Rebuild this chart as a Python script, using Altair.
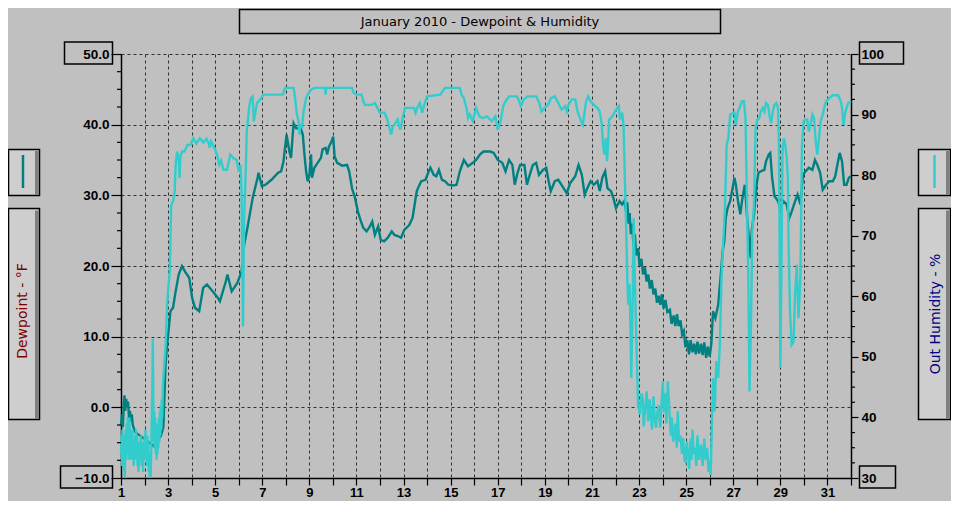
import altair as alt
import pandas as pd

# ---------------- data ----------------
dew_day = [1.00, 1.04, 1.08, 1.12, 1.15, 1.18, 1.22, 1.26, 1.30, 1.34, 1.38, 1.42, 1.46, 1.50,
           1.6, 1.8, 2.0, 2.2, 2.4, 2.6, 2.7, 2.80, 2.89, 2.96, 3.03, 3.10, 3.21, 3.31, 3.45,
           3.59, 3.72, 3.90, 4.02, 4.14, 4.32, 4.49, 4.65, 4.90, 5.11, 5.20, 5.45, 5.52, 5.70,
           5.94, 6.12, 6.23, 6.39, 6.59, 6.80, 6.84, 6.98, 7.14, 7.39, 7.67, 7.80, 7.90, 8.03,
           8.15, 8.22, 8.33, 8.44, 8.63, 8.72, 8.79, 8.86, 8.93, 9.00, 9.07, 9.11, 9.21, 9.35,
           9.49, 9.56, 9.69, 9.76, 9.83, 9.94, 10.01, 10.07, 10.18, 10.39, 10.60, 10.69, 10.81,
           10.94, 11.06, 11.19, 11.29, 11.43, 11.57, 11.67, 11.78, 11.92, 12.03, 12.17, 12.33,
           12.50, 12.61, 12.78, 12.89, 13.03, 13.24, 13.38, 13.47, 13.56, 13.65, 13.75, 13.93,
           14.07, 14.14, 14.28, 14.39, 14.50, 14.63, 14.76, 14.90, 15.11, 15.25, 15.39, 15.56,
           15.74, 15.94, 16.08, 16.25, 16.39, 16.68, 16.83, 17.00, 17.19, 17.33, 17.48, 17.62,
           17.72, 17.84, 17.95, 18.13, 18.24, 18.34, 18.49, 18.63, 18.75, 18.92, 19.06, 19.16,
           19.25, 19.42, 19.57, 19.74, 19.93, 20.07, 20.29, 20.43, 20.57, 20.69, 20.80, 20.94,
           21.08, 21.23, 21.33, 21.44, 21.56, 21.66, 21.81, 21.91, 22.02, 22.17, 22.28, 22.38,
           22.45, 22.50, 22.55, 22.60, 22.65, 22.71, 22.76, 22.82, 22.88, 22.96, 23.02, 23.10,
           23.17, 23.25, 23.32, 23.39, 23.46, 23.54, 23.61, 23.69, 23.76, 23.83, 23.90, 23.97,
           24.04, 24.12, 24.20, 24.31, 24.38, 24.47, 24.54, 24.61, 24.68, 24.76, 24.83, 24.90,
           24.97, 25.05, 25.12, 25.19, 25.27, 25.34, 25.41, 25.48, 25.55, 25.63, 25.70, 25.77,
           25.85, 25.92, 26.00, 26.07, 26.14, 26.24, 26.36, 26.47, 26.55, 26.62, 26.68, 26.76,
           26.87, 26.97, 27.05, 27.11, 27.20, 27.30, 27.37, 27.49, 27.59, 27.69, 27.74, 27.78,
           27.88, 27.99, 28.07, 28.17, 28.32, 28.39, 28.51, 28.57, 28.65, 28.75, 28.90, 29.00,
           29.12, 29.27, 29.38, 29.48, 29.63, 29.73, 29.85, 29.96, 30.07, 30.21, 30.36, 30.47,
           30.57, 30.69, 30.80, 30.94, 31.08, 31.23, 31.33, 31.42, 31.52, 31.62, 31.71, 31.81,
           31.91, 32.00]
dew_val = [-2.5, -1.0, -2.8, 0.5, 1.7, -0.5, 1.2, 0.0, 0.8, -1.5, -0.5, -2.0, -1.0, -2.5,
           -3.5, -4.0, -4.5, -5.0, -5.5, -4.5, -4.0, -2.8, 6.0, 8.9, 11.2, 13.6, 14.1, 16.2, 18.8,
           20.0, 19.2, 18.3, 15.5, 14.1, 13.6, 16.9, 17.4, 16.4, 15.5, 15.0, 17.8, 18.8, 16.4,
           17.6, 19.2, 23.0, 25.8, 29.6, 32.5, 33.2, 31.3, 31.5, 32.2, 33.2, 33.4, 34.8, 38.6,
           36.2, 35.3, 40.2, 39.5, 39.5, 38.6, 35.8, 33.4, 32.0, 32.9, 35.8, 32.5, 33.9, 34.6,
           35.3, 36.5, 36.7, 35.8, 36.9, 37.6, 38.3, 35.5, 34.6, 34.2, 34.3, 33.4, 31.0,
           29.6, 27.7, 26.3, 25.4, 24.9, 25.6, 26.3, 24.4, 25.6, 23.7, 23.5, 24.0,
           24.9, 24.4, 24.2, 24.0, 25.1, 25.8, 26.8, 28.7, 30.6, 31.3, 32.0, 32.2,
           33.4, 33.9, 32.9, 32.7, 33.6, 32.2, 32.0, 31.5, 31.4, 31.5, 33.4, 35.0,
           34.1, 34.6, 35.0, 35.8, 36.2, 36.2, 36.0, 35.0, 34.6, 33.4, 35.0, 34.3,
           31.5, 33.2, 34.3, 34.3, 31.5, 32.7, 34.3, 34.6, 32.9, 33.6, 33.9, 32.0,
           30.6, 32.0, 32.2, 31.3, 30.3, 31.7, 32.7, 34.3, 32.9, 30.1, 31.0, 32.0,
           31.5, 32.0, 30.6, 32.5, 33.4, 31.0, 30.6, 29.6, 28.2, 29.2, 28.7, 29.2,
           27.7, 29.0, 26.0, 27.5, 24.5, 26.0, 23.0, 24.5, 21.5, 22.5, 20.0, 21.0,
           18.8, 19.8, 17.8, 18.8, 16.8, 18.0, 16.0, 16.8, 14.8, 15.8, 14.5, 16.0,
           14.0, 15.2, 13.5, 13.8, 11.8, 13.0, 11.5, 13.2, 11.5, 12.3, 10.3, 10.8,
           8.5, 9.5, 7.5, 9.5, 7.8, 9.0, 7.5, 9.3, 7.6, 9.0, 7.4, 9.2,
           7.0, 8.6, 7.2, 9.0, 13.6, 12.6, 14.5, 18.8, 22.1, 23.5, 26.8, 28.2,
           29.2, 31.0, 32.5, 31.5, 29.2, 27.3, 29.2, 31.5, 26.8, 23.0, 21.1, 24.9,
           27.3, 31.5, 33.2, 33.4, 33.6, 34.8, 35.8, 36.0, 32.5, 29.9, 29.2, 28.2,
           29.2, 28.7, 26.8, 27.7, 29.2, 30.1, 28.7, 32.9, 33.4, 33.9, 33.6, 35.0,
           34.3, 33.2, 30.8, 31.5, 32.0, 32.0, 32.7, 34.3, 36.0, 34.8, 31.5, 31.5,
           32.5, 32.7]

hum_day = [1.00, 1.02, 1.04, 1.06, 1.08, 1.10, 1.12, 1.14, 1.16, 1.18, 1.20, 1.22, 1.24, 1.26,
           1.28, 1.30, 1.32, 1.34, 1.36, 1.38, 1.40, 1.42, 1.44, 1.46, 1.48, 1.50, 1.52, 1.54,
           1.56, 1.58, 1.60, 1.62, 1.64, 1.66, 1.68, 1.70, 1.72, 1.74, 1.76, 1.78, 1.80, 1.82,
           1.84, 1.86, 1.88, 1.90, 1.92, 1.94, 1.96, 1.98, 2.00, 2.02, 2.04, 2.06, 2.08, 2.10,
           2.12, 2.14, 2.16, 2.18, 2.20, 2.22, 2.24, 2.26, 2.28, 2.30, 2.33, 2.35, 2.37, 2.39,
           2.41, 2.43, 2.45, 2.47, 2.49, 2.51, 2.53, 2.55, 2.57, 2.59, 2.61, 2.63, 2.65, 2.67,
           2.69, 2.71, 2.73, 2.75, 2.78,
           2.80, 2.90, 2.95, 3.00, 3.07, 3.10, 3.13, 3.21, 3.28, 3.32, 3.38, 3.45, 3.49, 3.52,
           3.59, 3.70, 3.82, 3.95, 4.07, 4.20, 4.35, 4.50, 4.63, 4.73, 4.77, 4.82, 4.90, 5.00,
           5.08, 5.17, 5.25, 5.35, 5.50, 5.64, 5.78, 5.92, 6.00, 6.08, 6.12, 6.18, 6.23, 6.30,
           6.34, 6.44, 6.51, 6.59, 6.64, 6.71, 6.78, 6.92, 7.05, 7.50, 7.88, 7.96, 8.33, 8.40,
           8.47, 8.54, 8.58, 8.62, 8.69, 8.75, 8.86, 8.97, 9.07, 9.21, 9.66, 9.69, 9.72, 10.81,
           10.88, 11.01, 11.22, 11.29, 11.36, 11.64, 11.78, 11.89, 11.99, 12.19, 12.31, 12.40,
           12.47, 12.54, 12.61, 12.75, 12.86, 12.96, 13.06, 13.44, 13.51, 13.58, 13.69, 13.79,
           13.86, 13.93, 14.00, 14.56, 14.76, 15.39, 15.46, 15.56, 15.67, 15.74, 15.81, 15.94,
           16.08, 16.22, 16.36, 16.54, 16.75, 16.90, 17.00, 17.12, 17.23, 17.33, 17.48, 17.81,
           17.91, 17.98, 18.10, 18.27, 18.63, 18.77, 18.85, 18.99, 19.14, 19.25, 19.42, 19.57,
           19.71, 19.86, 19.93, 20.00, 20.14, 20.29, 20.39, 20.51, 20.61, 20.69, 20.75, 20.84,
           20.94, 21.08, 21.23, 21.33, 21.42, 21.47, 21.53, 21.59, 21.64, 21.68, 21.73, 21.81,
           21.91, 22.02, 22.14, 22.19, 22.28, 22.34, 22.40, 22.45, 22.50, 22.54, 22.60, 22.67,
           22.74, 22.77, 22.82, 22.89, 22.96, 23.03, 23.10, 23.15, 23.20, 23.25, 23.32, 23.39,
           23.45, 23.49, 23.55, 23.61, 23.66, 23.72, 23.78, 23.83, 23.90, 23.95, 24.01, 24.06,
           24.11, 24.16, 24.22, 24.29, 24.35, 24.39, 24.45, 24.54, 24.60, 24.64, 24.70, 24.76,
           24.82, 24.87, 24.93, 24.97, 25.03, 25.08, 25.13, 25.19, 25.23, 25.27, 25.32, 25.37,
           25.43, 25.48, 25.55, 25.63, 25.70, 25.77, 25.83, 25.89, 25.95, 25.99, 26.04, 26.07,
           26.14, 26.21, 26.28, 26.36, 26.43, 26.50, 26.57, 26.65, 26.72, 26.79, 26.87, 27.05,
           27.11, 27.20, 27.30, 27.37, 27.45, 27.52, 27.59, 27.64, 27.69, 27.75, 27.81, 27.88,
           27.95, 28.03, 28.10, 28.17, 28.25, 28.32, 28.39, 28.47, 28.54, 28.61, 28.68, 28.75,
           28.83, 28.90, 28.94, 28.97, 29.00, 29.05, 29.09, 29.15, 29.21, 29.27, 29.32, 29.35,
           29.41, 29.48, 29.56, 29.63, 29.70, 29.77, 29.85, 29.92, 29.99, 30.07, 30.14, 30.21,
           30.28, 30.36, 30.43, 30.50, 30.57, 30.64, 30.71, 30.80, 30.86, 30.94, 31.08, 31.23,
           31.45, 31.57, 31.62, 31.68, 31.74, 31.81, 31.88, 32.00]
hum_val = [34, 37, 32, 38, 33, 36, 31, 37, 30, 35, 38, 33, 39, 34,
           40, 35, 39, 33, 40, 35, 38, 33, 37, 34, 38, 33, 36, 32,
           35, 33, 37, 34, 38, 33, 37, 32, 36, 31, 35, 32, 36, 33,
           37, 33, 36, 32, 35, 31, 36, 33, 37, 34, 38, 33, 36, 32,
           37, 33, 36, 31, 34, 30, 33, 30, 34, 38, 45, 53, 44, 36,
           41, 35, 40, 34, 39, 33, 38, 34, 39, 35, 40, 36, 41, 37,
           42, 38, 43, 40, 45,
           46.5, 52, 58, 61, 64, 69.6, 75, 75.7, 77.3, 81.7, 83.9, 82.8, 79.5, 83,
           83.9, 83.9, 85, 85, 86.1, 85.2, 86.1, 85.4, 86.0, 85.2, 84.5, 85.6, 85, 84.2,
           83.4, 81.7, 82.4, 80.9, 80.9, 83.4, 82.8, 82.5, 80.6, 81.7, 77.3, 55.0, 72.9, 81.2,
           87.2, 91.1, 92.7, 93.0, 88.9, 90.5, 91.9, 92.5, 93.3, 93.3, 93.3, 94.4, 94.4, 92.5,
           90.0, 88.9, 86.7, 88.5, 87.8, 90.5, 92.7, 93.6, 94.1, 94.4, 94.4, 93.3, 94.4, 94.4,
           93.6, 93.3, 93.3, 92.2, 91.6, 91.6, 91.9, 91.1, 90.3, 90.3, 89.2, 87.8,
           86.7, 88.0, 88.3, 89.2, 87.5, 89.4, 91.1, 91.1, 90.3, 91.1, 91.9, 90.3,
           91.4, 92.2, 93.0, 93.3, 94.4, 94.4, 93.3, 92.7, 91.1, 89.4, 90.0, 88.9,
           91.1, 89.7, 89.4, 89.7, 88.9, 89.7, 87.5, 88.9, 91.4, 92.2, 93.0, 93.0,
           92.2, 91.4, 92.5, 93.0, 93.0, 91.9, 90.5, 91.1, 91.6, 92.7, 93.0, 91.9,
           90.8, 91.4, 90.5, 91.6, 92.5, 92.5, 90.5, 89.2, 88.3, 90.5, 92.2, 93.0,
           92.2, 91.6, 91.1, 90.5, 88.3, 85.0, 83.4, 86.1, 82.3, 85.0, 89.2, 89.4,
           90.0, 90.8, 91.4, 89.2, 90.3, 88.3, 79.0, 71.8, 63.0, 58.6, 62, 46.5,
           62, 72.9, 63, 52.0, 42.1, 40.5, 44, 43.2, 38.5, 41, 44.3, 39.4,
           43, 41, 38, 43.5, 40, 38.3, 41, 42, 38.3, 42, 46.0, 41,
           44, 39, 46, 41, 37, 40, 36, 39, 35, 41, 36, 37,
           34, 36.6, 33, 32.7, 36, 34, 31.5, 36.5, 33, 38, 34, 35,
           32, 37, 33, 35.5, 32, 36.5, 33, 35, 31, 33, 30.5, 35,
           46.5, 41, 49.3, 46.5, 52, 63, 68.5, 75.1, 85, 86.1, 90, 90.3,
           88.3, 90.5, 91.4, 92.2, 92.2, 89.4, 74, 63, 44.3, 54.8, 70.7, 75.1,
           87.8, 89.2, 89.4, 90.5, 91.1, 90.5, 91.9, 91.6, 89.9, 88.6, 90.5, 91.6,
           91.9, 91.1, 85, 68, 48.2, 66, 83.9, 86.1, 85, 82.8, 79.5, 68.5,
           57.5, 52, 52.5, 60.8, 65.2, 56.4, 63, 85, 88.9, 89.2, 89.2, 87.2,
           88.3, 90, 89.4, 85.6, 83.4, 86.1, 88.9, 90, 91.1, 92.2, 92.7, 93.2,
           93.2, 92.2, 91.1, 88.3, 90, 91.1, 91.9, 92.2]

day_ticks = list(range(1, 33))
dew_major = [-10, 0, 10, 20, 30, 40, 50]
dew_minor = [-7.5, -5, -2.5, 2.5, 5, 7.5, 12.5, 15, 17.5, 22.5, 25, 27.5,
             32.5, 35, 37.5, 42.5, 45, 47.5]
hum_major = [30, 40, 50, 60, 70, 80, 90, 100]
hum_minor = [32.5, 35, 37.5, 42.5, 45, 47.5, 52.5, 55, 57.5, 62.5, 65, 67.5,
             72.5, 75, 77.5, 82.5, 85, 87.5, 92.5, 95, 97.5]

title_text = "January 2010 - Dewpoint & Humidity"
dew_label = "Dewpoint - °F"
hum_label = "Out Humidity - %"

# ---------------- styling ----------------
BG = "#c0c0c0"
TEAL = "#008080"
CYAN = "#33cccc"
W, H = 730, 424
LBL_FONT = "Liberation Sans"

dew_df = pd.DataFrame({"day": dew_day, "dew": dew_val})
hum_df = pd.DataFrame({"day": hum_day, "hum": hum_val})
one = pd.DataFrame({"k": [0]})

x_scale = alt.Scale(domain=[1, 32], nice=False, zero=False)
dew_scale = alt.Scale(domain=[-10, 50], nice=False, zero=False)
hum_scale = alt.Scale(domain=[30, 100], nice=False, zero=False)

x_axis = alt.Axis(
    values=day_ticks, title=None, grid=True, gridColor="#303030", gridDash=[3, 3],
    gridWidth=1, gridOpacity=1, tickSize=7, tickColor="black", tickWidth=1.2,
    domainColor="black", domainWidth=1.5, labelFont=LBL_FONT, labelFontSize=13,
    labelFontWeight="bold", labelColor="black", labelPadding=1, labelFlush=False,
    labelOverlap=False, labelExpr="datum.value % 2 == 1 ? datum.label : ''",
)
left_axis = alt.Axis(
    orient="left", values=dew_major, format=".1f", title=None, grid=True,
    gridColor="#303030", gridDash=[3, 3], gridWidth=1, gridOpacity=1,
    tickSize=10, tickColor="black", tickWidth=1.2, domainColor="black", domainWidth=1.5,
    labelFont=LBL_FONT, labelFontSize=13.5, labelFontWeight="bold", labelColor="black",
    labelPadding=2, labelFlush=False, labelOverlap=False,
)
right_axis = alt.Axis(
    orient="right", values=hum_major, format="d", title=None, grid=False,
    tickSize=7, tickColor="black", tickWidth=1.2, domainColor="black", domainWidth=1.5,
    labelFont=LBL_FONT, labelFontSize=13.5, labelFontWeight="bold", labelColor="black",
    labelPadding=3, labelFlush=False, labelOverlap=False,
)

dew_line = alt.Chart(dew_df).mark_line(color=TEAL, strokeWidth=2.4).encode(
    x=alt.X("day:Q", scale=x_scale, axis=x_axis),
    y=alt.Y("dew:Q", scale=dew_scale, axis=left_axis),
    order="day:Q",
)
hum_line = alt.Chart(hum_df).mark_line(color=CYAN, strokeWidth=2.4).encode(
    x=alt.X("day:Q", scale=x_scale, axis=x_axis),
    y=alt.Y("hum:Q", scale=hum_scale, axis=right_axis),
    order="day:Q",
)
dew_minor_rules = alt.Chart(pd.DataFrame({"dm": dew_minor})).mark_rule(
    color="black", strokeWidth=1.2
).encode(y=alt.Y("dm:Q", scale=dew_scale, axis=None), x=alt.value(-4), x2=alt.value(0))
hum_minor_rules = alt.Chart(pd.DataFrame({"hm": hum_minor})).mark_rule(
    color="black", strokeWidth=1.2
).encode(y=alt.Y("hm:Q", scale=hum_scale, axis=None), x=alt.value(W), x2=alt.value(W + 4))


def box(x1, x2, y1, y2, fill=None, stroke="black", sw=1.5):
    kw = dict(stroke=stroke, strokeWidth=sw) if stroke else dict(strokeWidth=0)
    if fill:
        kw["fill"] = fill
    else:
        kw["fillOpacity"] = 0
    return alt.Chart(one).mark_rect(**kw).encode(
        x=alt.value(x1), x2=alt.value(x2), y=alt.value(y1), y2=alt.value(y2)
    )


def vline(x, y1, y2, color):
    return alt.Chart(one).mark_rule(color=color, strokeWidth=2.5).encode(
        x=alt.value(x), y=alt.value(y1), y2=alt.value(y2)
    )


def label(text, x, y, color, size, angle=0, weight="normal"):
    return alt.Chart(one).mark_text(
        text=text, color=color, font="DejaVu Sans", fontSize=size, angle=angle,
        align="center", baseline="middle", fontWeight=weight,
    ).encode(x=alt.value(x), y=alt.value(y))


deco = [
    # title
    box(118.5, 599.5, -44.5, -20.5),
    label(title_text, 359, -32.5, "black", 13),
    # end-label boxes
    box(-56.5, -8.5, -12, 10),
    box(-60.5, -8.5, 412, 434),
    box(738.5, 782.5, -12, 10),
    box(738.5, 774.5, 412, 434),
    # left legend
    box(-112.5, -81.5, 95.5, 141.5, fill="#cecece"),
    box(-86, -82.3, 97, 140.8, fill="#808080", stroke=None),
    vline(-98, 101, 134, TEAL),
    box(-112.5, -81.5, 154.5, 365.5, fill="#cecece"),
    box(-86, -82.3, 156.5, 364.8, fill="#808080", stroke=None),
    label(dew_label, -98, 257, "#800000", 14, angle=270),
    # right legend
    box(797.5, 829.5, 95.5, 141.5, fill="#cecece"),
    box(825, 828.8, 97, 140.8, fill="#808080", stroke=None),
    vline(813.5, 101, 134, CYAN),
    box(797.5, 829.5, 154.5, 365.5, fill="#cecece"),
    box(825, 828.8, 156.5, 364.8, fill="#808080", stroke=None),
    label(hum_label, 814.5, 260, "#000080", 14, angle=270),
]

chart = alt.layer(
    dew_line, hum_line, dew_minor_rules, hum_minor_rules, *deco
).resolve_scale(y="independent").properties(
    width=W, height=H,
    padding={"left": 113, "top": 46, "right": 100, "bottom": 23},
    autosize=alt.AutoSizeParams(type="none"),
    background=BG,
).configure_view(strokeWidth=0)

chart.save("out.html", embed_options={"renderer": "svg", "actions": False})
